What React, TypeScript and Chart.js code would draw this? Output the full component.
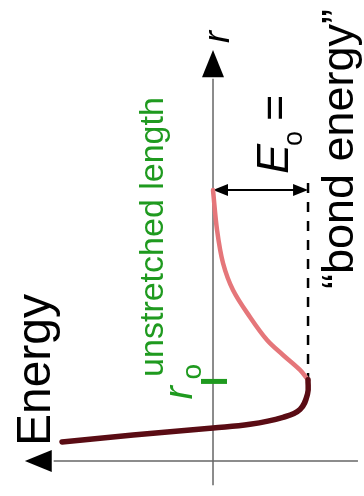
import { useEffect, useRef } from "react";
import { Chart, registerables } from "chart.js";

Chart.register(...registerables);

// Repulsive (compressed) branch: energy vs separation r
const compressedEnergy = [1.573, 0.833, 0, -0.385, -0.729, -0.906, -0.985, -0.99];
const compressedR = [0.244, 0.333, 0.423, 0.47, 0.56, 0.66, 0.86, 1.04];
// Attractive (stretched) branch
const stretchedEnergy = [-0.99, -0.906, -0.729, -0.5625, -0.385, -0.208, -0.104, -0.042, 0];
const stretchedR = [1.04, 1.167, 1.359, 1.551, 1.846, 2.192, 2.538, 2.962, 3.474];

const bondEnergy = -0.99; // E_o
const r0 = 1.02; // unstretched length
const rTop = 3.474; // where the curve meets E = 0

const energyMin = -1.573;
const energyMax = 2.219;
const rMin = -0.449;
const rMax = 5.91;

const GREEN = "#1f9a1f";
const DARK = "#5a0c14";
const PINK = "#e5767a";
const AXIS = "#666666";

function rotText(
  ctx: CanvasRenderingContext2D,
  text: string,
  x: number,
  y: number,
  font: string,
  color: string,
  align: CanvasTextAlign
) {
  ctx.save();
  ctx.translate(x, y);
  ctx.rotate(-Math.PI / 2);
  ctx.font = font;
  ctx.fillStyle = color;
  ctx.textAlign = align;
  ctx.textBaseline = "alphabetic";
  ctx.fillText(text, 0, 0);
  ctx.restore();
}

const decorPlugin = {
  id: "decor",
  beforeDatasetsDraw(chart: any) {
    const ctx: CanvasRenderingContext2D = chart.ctx;
    const xs = chart.scales.x;
    const ys = chart.scales.y;
    const px = (v: number) => xs.getPixelForValue(v);
    const py = (v: number) => ys.getPixelForValue(v);
    ctx.save();
    ctx.strokeStyle = AXIS;
    ctx.fillStyle = "#000";
    ctx.lineWidth = 1.5;
    // r axis (vertical, at E = 0)
    const x0 = px(0);
    ctx.beginPath();
    ctx.moveTo(x0, py(-0.31));
    ctx.lineTo(x0, py(4.9));
    ctx.stroke();
    ctx.beginPath();
    ctx.moveTo(x0, py(5.27));
    ctx.lineTo(x0 - 11, py(4.92));
    ctx.lineTo(x0 + 11, py(4.92));
    ctx.closePath();
    ctx.fill();
    // energy axis (horizontal, at r = 0)
    const y0 = py(0);
    ctx.beginPath();
    ctx.moveTo(px(-1.51), y0);
    ctx.lineTo(px(1.66), y0);
    ctx.stroke();
    ctx.beginPath();
    ctx.moveTo(px(1.96), y0);
    ctx.lineTo(px(1.68), y0 - 11);
    ctx.lineTo(px(1.68), y0 + 11);
    ctx.closePath();
    ctx.fill();
    // dashed line at bond energy
    ctx.strokeStyle = "#000";
    ctx.lineWidth = 2.5;
    ctx.setLineDash([10, 9]);
    ctx.beginPath();
    ctx.moveTo(px(bondEnergy), py(rTop) - 7);
    ctx.lineTo(px(bondEnergy), py(r0));
    ctx.stroke();
    ctx.setLineDash([]);
    // double arrow E_o
    const ya = py(rTop);
    const xa = px(0);
    const xb = px(bondEnergy);
    ctx.lineWidth = 2;
    ctx.beginPath();
    ctx.moveTo(xa + 10, ya);
    ctx.lineTo(xb - 10, ya);
    ctx.stroke();
    ctx.beginPath();
    ctx.moveTo(xa, ya);
    ctx.lineTo(xa + 15, ya - 6);
    ctx.lineTo(xa + 15, ya + 6);
    ctx.closePath();
    ctx.fill();
    ctx.beginPath();
    ctx.moveTo(xb, ya);
    ctx.lineTo(xb - 15, ya - 6);
    ctx.lineTo(xb - 15, ya + 6);
    ctx.closePath();
    ctx.fill();
    ctx.restore();
  },
  afterDraw(chart: any) {
    const ctx: CanvasRenderingContext2D = chart.ctx;
    const xs = chart.scales.x;
    const ys = chart.scales.y;
    const px = (v: number) => xs.getPixelForValue(v);
    const py = (v: number) => ys.getPixelForValue(v);
    ctx.save();
    // r0 tick
    ctx.strokeStyle = GREEN;
    ctx.lineWidth = 5;
    ctx.beginPath();
    ctx.moveTo(px(0) - 12, py(r0));
    ctx.lineTo(px(0) + 14, py(r0));
    ctx.stroke();
    ctx.restore();

    const SANS = "'Liberation Sans', Arial, sans-serif";
    rotText(ctx, "Energy", 50, 370, `48px ${SANS}`, "#000", "center");
    rotText(ctx, "unstretched length", 163, 237, `34px ${SANS}`, GREEN, "center");
    rotText(ctx, "r", 192, py(r0) + 18, `italic 40px ${SANS}`, GREEN, "left");
    rotText(ctx, "o", 201, py(r0) - 2, `28px ${SANS}`, GREEN, "left");
    rotText(ctx, "E", 288, 174, `italic 45px ${SANS}`, "#000", "left");
    rotText(ctx, "o", 302, 146, `27px ${SANS}`, "#000", "left");
    rotText(ctx, "=", 289, 121, `45px ${SANS}`, "#000", "left");
    rotText(ctx, "\u201Cbond energy\u201D", 353, 149, `45px ${SANS}`, "#000", "center");
    rotText(ctx, "r", px(0) + 16, 43, `italic 36px ${SANS}`, "#000", "left");
  },
};

export default function App() {
  const canvasRef = useRef<HTMLCanvasElement | null>(null);

  useEffect(() => {
    document.body.style.margin = "0";
    const canvas = canvasRef.current;
    if (!canvas) return;
    const chart = new Chart(canvas, {
      type: "scatter",
      data: {
        datasets: [
          {
            data: compressedEnergy.map((e, i) => ({ x: e, y: compressedR[i] })),
            showLine: true,
            borderColor: DARK,
            borderWidth: 5.5,
            pointRadius: 0,
            tension: 0.4,
            borderCapStyle: "round",
          },
          {
            data: stretchedEnergy.map((e, i) => ({ x: e, y: stretchedR[i] })),
            showLine: true,
            borderColor: PINK,
            borderWidth: 4.5,
            pointRadius: 0,
            tension: 0.35,
            borderCapStyle: "round",
          },
        ],
      },
      options: {
        animation: false,
        responsive: true,
        maintainAspectRatio: false,
        layout: { padding: 0 },
        plugins: { legend: { display: false }, tooltip: { enabled: false } },
        scales: {
          x: { type: "linear", reverse: true, min: energyMin, max: energyMax, display: false },
          y: { type: "linear", min: rMin, max: rMax, display: false },
        },
      },
      plugins: [decorPlugin],
    });
    return () => chart.destroy();
  }, []);

  return (
    <div style={{ position: "absolute", left: 0, top: 0, width: 364, height: 496, background: "#fff" }}>
      <canvas ref={canvasRef} />
    </div>
  );
}
